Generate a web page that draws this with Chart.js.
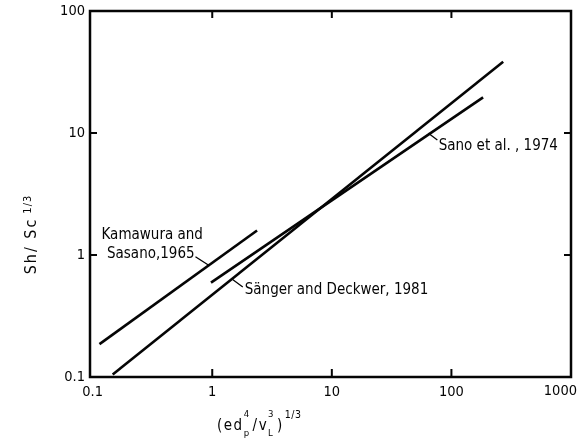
<!DOCTYPE html>
<html>
<head>
<meta charset="utf-8">
<style>
  html, body { margin: 0; padding: 0; background: #fff; }
</style>
<script src="https://cdn.jsdelivr.net/npm/chart.js@4.4.1/dist/chart.umd.min.js"></script>
</head>
<body>
<canvas id="massChart" width="579" height="439"></canvas>
<script>
var xTicks = [0.1, 1, 10, 100, 1000];
var yTicks = [0.1, 1, 10, 100];

var kawaseX = [0.114, 2.37];
var kawaseY = [0.186, 1.59];
var sangerX = [0.147, 271];
var sangerY = [0.105, 38.4];
var sanoX = [0.976, 184];
var sanoY = [0.593, 19.6];

var notes = [
  { text: 'Kamawura and', x: 0.1186, y: 1.46 },
  { text: 'Sasano,1965', x: 0.1318, y: 1.02 },
  { text: 'Sänger and Deckwer, 1981', x: 1.87, y: 0.516 },
  { text: 'Sano et al. , 1974', x: 78.2, y: 7.81 }
];
var leaders = [
  [0.724, 0.968, 0.948, 0.817],
  [1.80, 0.547, 1.48, 0.630],
  [64.2, 9.94, 76.3, 8.76]
];

var ink = '#050505';
var family = "'DejaVu Sans Condensed', 'DejaVu Sans', sans-serif";

function points(xs, ys) {
  return xs.map(function (x, i) { return { x: x, y: ys[i] }; });
}

function lineSet(xs, ys) {
  return {
    data: points(xs, ys),
    showLine: true,
    borderColor: ink,
    borderWidth: 2.6,
    pointRadius: 0,
    tension: 0
  };
}

var framePlugin = {
  id: 'frame',
  afterDraw: function (chart) {
    var ctx = chart.ctx;
    var a = chart.chartArea;
    var xs = chart.scales.x;
    var ys = chart.scales.y;
    ctx.save();
    ctx.strokeStyle = ink;
    ctx.lineWidth = 2.5;
    ctx.strokeRect(a.left, a.top, a.right - a.left, a.bottom - a.top);

    ctx.lineWidth = 2;
    ctx.beginPath();
    xTicks.forEach(function (v) {
      var p = xs.getPixelForValue(v);
      if (p > a.left + 3 && p < a.right - 3) {
        ctx.moveTo(p, a.bottom); ctx.lineTo(p, a.bottom - 8);
        ctx.moveTo(p, a.top); ctx.lineTo(p, a.top + 7);
      }
    });
    yTicks.forEach(function (v) {
      var p = ys.getPixelForValue(v);
      if (p > a.top + 3 && p < a.bottom - 3) {
        ctx.moveTo(a.left, p); ctx.lineTo(a.left + 7, p);
        ctx.moveTo(a.right, p); ctx.lineTo(a.right - 7, p);
      }
    });
    ctx.stroke();

    // last x label would be clipped, so it is right aligned
    ctx.fillStyle = ink;
    ctx.font = '14.5px ' + family;
    ctx.textAlign = 'right';
    ctx.textBaseline = 'middle';
    ctx.fillText('1000', 577, a.bottom + 14);

    ctx.lineWidth = 1.3;
    ctx.beginPath();
    leaders.forEach(function (l) {
      ctx.moveTo(xs.getPixelForValue(l[0]), ys.getPixelForValue(l[1]));
      ctx.lineTo(xs.getPixelForValue(l[2]), ys.getPixelForValue(l[3]));
    });
    ctx.stroke();

    ctx.font = '15px ' + family;
    ctx.textAlign = 'left';
    ctx.textBaseline = 'middle';
    notes.forEach(function (n) {
      ctx.fillText(n.text, xs.getPixelForValue(n.x), ys.getPixelForValue(n.y));
    });

    // y title
    ctx.save();
    ctx.translate(36, 246);
    ctx.rotate(-Math.PI / 2);
    ctx.textBaseline = 'alphabetic';
    ctx.textAlign = 'center';
    ctx.font = '16px ' + family;
    ctx.letterSpacing = '2px';
    var mainW = ctx.measureText('Sh/ Sc').width;
    ctx.fillText('Sh/ Sc', 0, 0);
    ctx.letterSpacing = '1px';
    ctx.textAlign = 'left';
    ctx.font = '11px ' + family;
    ctx.fillText('1/3', mainW / 2 + 4, -5);
    ctx.restore();

    // x title
    var x = 217;
    var base = 430;
    ctx.textAlign = 'left';
    ctx.textBaseline = 'alphabetic';
    ctx.letterSpacing = '1.5px';
    function main(t) {
      ctx.font = '15px ' + family;
      ctx.fillText(t, x, base);
      x += ctx.measureText(t).width;
    }
    function pair(sup, sub) {
      ctx.font = '9.5px ' + family;
      ctx.fillText(sup, x, base - 13);
      ctx.fillText(sub, x, base + 6);
      x += Math.max(ctx.measureText(sup).width, ctx.measureText(sub).width) + 2;
    }
    main('(ed');
    pair('4', 'p');
    main('/v');
    pair('3', 'L');
    main(')');
    ctx.font = '10.5px ' + family;
    ctx.letterSpacing = '0.5px';
    ctx.fillText('1/3', x + 1, base - 12);
    ctx.restore();
  }
};

var ctx = document.getElementById('massChart').getContext('2d');
var chart = new Chart(ctx, {
  type: 'scatter',
  data: {
    datasets: [
      lineSet(kawaseX, kawaseY),
      lineSet(sangerX, sangerY),
      lineSet(sanoX, sanoY)
    ]
  },
  options: {
    responsive: false,
    animation: false,
    layout: {
      padding: { top: 11, right: 8, left: 0, bottom: 0 }
    },
    plugins: {
      legend: { display: false },
      tooltip: { enabled: false }
    },
    scales: {
      x: {
        type: 'logarithmic',
        min: 0.095,
        max: 1000,
        grid: { display: false },
        border: { display: false },
        afterBuildTicks: function (s) {
          s.ticks = xTicks.map(function (v) { return { value: v }; });
        },
        afterFit: function (s) {
          s.height = 62;
          s.paddingLeft = 0;
          s.paddingRight = 0;
        },
        ticks: {
          color: ink,
          padding: -1,
          maxRotation: 0,
          autoSkip: false,
          font: { family: family, size: 14.5 },
          callback: function (v) {
            return v === 1000 ? '' : String(v);
          }
        }
      },
      y: {
        type: 'logarithmic',
        min: 0.1,
        max: 100,
        grid: { display: false },
        border: { display: false },
        afterBuildTicks: function (s) {
          s.ticks = yTicks.map(function (v) { return { value: v }; });
        },
        afterFit: function (s) {
          s.width = 90;
          s.paddingTop = 0;
          s.paddingBottom = 0;
        },
        ticks: {
          color: ink,
          padding: -3,
          autoSkip: false,
          font: { family: family, size: 14.5 },
          callback: function (v) {
            return String(v);
          }
        }
      }
    }
  },
  plugins: [framePlugin]
});
</script>
</body>
</html>
